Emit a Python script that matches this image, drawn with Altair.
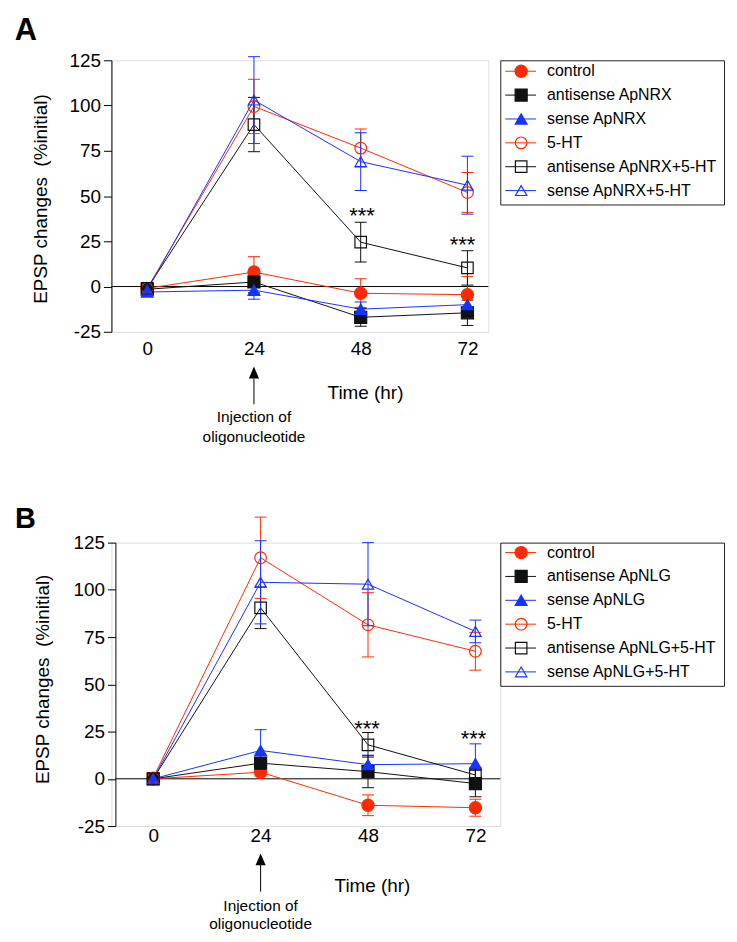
import altair as alt
import pandas as pd

times = [0, 24, 48, 72]
keys = ["control", "antisense", "sense", "5-HT", "antisense+5-HT", "sense+5-HT"]
labels_A = ["control", "antisense ApNRX", "sense ApNRX", "5-HT",
            "antisense ApNRX+5-HT", "sense ApNRX+5-HT"]
labels_B = ["control", "antisense ApNLG", "sense ApNLG", "5-HT",
            "antisense ApNLG+5-HT", "sense ApNLG+5-HT"]

# Panel A (ApNRX): mean and error per time point
a_control = [-1.0, 8.0, -3.7, -4.5]
a_control_err = [2.0, 8.5, 8.0, 10.0]
a_antisense = [-1.5, 2.5, -17.0, -14.5]
a_antisense_err = [2.0, 6.0, 5.0, 7.0]
a_sense = [-3.0, -2.0, -12.5, -10.0]
a_sense_err = [2.0, 5.0, 4.0, 4.0]
a_5ht = [-1.0, 99.5, 76.5, 52.0]
a_5ht_err = [2.0, 15.0, 10.5, 11.0]
a_anti5ht = [-1.0, 89.5, 24.5, 10.3]
a_anti5ht_err = [2.0, 15.0, 11.0, 9.5]
a_sense5ht = [-2.0, 103.0, 69.0, 56.0]
a_sense5ht_err = [2.0, 24.0, 16.0, 16.0]

# Panel B (ApNLG)
b_control = [0.0, 3.5, -14.0, -15.3]
b_control_err = [1.5, 2.0, 5.5, 4.5]
b_antisense = [0.0, 8.3, 3.8, -2.5]
b_antisense_err = [1.5, 4.0, 8.5, 7.0]
b_sense = [0.0, 15.0, 7.5, 8.0]
b_sense_err = [1.5, 11.0, 5.0, 10.5]
b_5ht = [0.5, 117.0, 81.5, 67.5]
b_5ht_err = [1.5, 21.5, 17.0, 10.0]
b_anti5ht = [0.0, 90.5, 18.0, 2.0]
b_anti5ht_err = [1.5, 11.0, 6.5, 4.0]
b_sense5ht = [0.0, 104.0, 103.0, 78.0]
b_sense5ht_err = [1.5, 22.0, 22.0, 6.0]

y_ticks = [-25, 0, 25, 50, 75, 100, 125]
x_ticks = [0, 24, 48, 72]

a_star_t = [48.3, 70.9]
a_star_v = [41.8, 25.8]
b_star_t = [47.8, 71.6]
b_star_v = [29.4, 24.1]
stars = "***"
arrow_t = [24]
note_1 = "Injection of"
note_2 = "oligonucleotide"

RED = "#ff2a00"
BLUE = "#1434ff"
BLACK = "#111111"
colors = [RED, BLACK, BLUE, RED, BLACK, BLUE]
fills = [RED, BLACK, BLUE, "transparent", "transparent", "transparent"]
shapes = ["circle", "square", "triangle-up", "circle", "square", "triangle-up"]
sizes = [150, 130, 160, 150, 125, 160]
FONT = "Liberation Sans"
ARROW = "M0,-1L0.85,1L-0.85,1Z"

col_scale = alt.Scale(domain=keys, range=colors)
fill_scale = alt.Scale(domain=keys, range=fills)
shape_scale = alt.Scale(domain=keys, range=shapes)
size_scale = alt.Scale(domain=keys, range=sizes)


def long_df(series, errs, labels):
    rows = []
    for k, lab, v, e in zip(keys, labels, series, errs):
        for t, vi, ei in zip(times, v, e):
            rows.append(dict(key=k, label=lab, time=t, value=vi,
                             lo=vi - ei, hi=vi + ei))
    return pd.DataFrame(rows)


dfA = long_df([a_control, a_antisense, a_sense, a_5ht, a_anti5ht, a_sense5ht],
              [a_control_err, a_antisense_err, a_sense_err, a_5ht_err,
               a_anti5ht_err, a_sense5ht_err], labels_A)
dfB = long_df([b_control, b_antisense, b_sense, b_5ht, b_anti5ht, b_sense5ht],
              [b_control_err, b_antisense_err, b_sense_err, b_5ht_err,
               b_anti5ht_err, b_sense5ht_err], labels_B)


def panel(df, star_t, star_v, p):
    w, h = p["w"], p["h"]
    xs = alt.Scale(domain=p["xdom"], nice=False, zero=False)
    ys = alt.Scale(domain=[-25, 125], nice=False, zero=False)
    xax = alt.Axis(values=x_ticks, ticks=False, domain=False, grid=False,
                   labelFontSize=19, labelColor="black", labelPadding=p["lab_pad"],
                   labelBaseline="middle", labelFlush=False, labelOverlap=False,
                   labelFont=FONT, title="Time (hr)", titleFont=FONT,
                   titleFontSize=19, titleFontWeight="normal", titleColor="black",
                   titleX=p["tx"], titleY=p["ty"], titleAlign="center",
                   titleBaseline="middle")
    yax = alt.Axis(values=y_ticks, grid=False, domainColor="black",
                   tickColor="black", tickSize=8, labelFontSize=19,
                   labelColor="black", labelPadding=3, labelFont=FONT,
                   labelExpr="'' + datum.value",
                   labelOverlap=False, labelFlush=False, offset=p["yoff"],
                   title="EPSP changes\u00a0 (%initial)", titleFont=FONT,
                   titleFontSize=19, titleFontWeight="normal", titleColor="black",
                   titleX=p["ytx"], titleY=p["yty"], titleAlign="center",
                   titleBaseline="middle", titleAngle=270)

    def X(f):
        return alt.X(f, scale=xs, axis=xax)

    def Y(f):
        return alt.Y(f, scale=ys, axis=yax)

    C = alt.Color("key:N", scale=col_scale, legend=None)
    base = alt.Chart(df)

    zero = alt.Chart(pd.DataFrame({"v": [0]})).mark_rule(
        color="black", strokeWidth=1).encode(
        y=Y("v:Q"), x=alt.value(p["zx0"]), x2=alt.value(w))
    lines = base.mark_line(strokeWidth=1).encode(
        x=X("time:Q"), y=Y("value:Q"), color=C, detail="key:N")
    bars = base.mark_rule(strokeWidth=1).encode(
        x=X("time:Q"), y=Y("lo:Q"), y2="hi:Q", color=C)
    cap_lo = base.mark_tick(orient="horizontal", size=12, thickness=1,
                            opacity=1).encode(x=X("time:Q"), y=Y("lo:Q"), color=C)
    cap_hi = base.mark_tick(orient="horizontal", size=12, thickness=1,
                            opacity=1).encode(x=X("time:Q"), y=Y("hi:Q"), color=C)
    pts = base.mark_point(opacity=1, strokeWidth=1.2).encode(
        x=X("time:Q"), y=Y("value:Q"),
        shape=alt.Shape("key:N", scale=shape_scale, legend=None),
        fill=alt.Fill("key:N", scale=fill_scale, legend=None),
        stroke=alt.Stroke("key:N", scale=col_scale, legend=None),
        size=alt.Size("key:N", scale=size_scale, legend=None))

    sdf = pd.DataFrame({"t": star_t, "v": star_v, "s": [stars] * len(star_t)})
    star_txt = alt.Chart(sdf).mark_text(
        fontSize=22, font=FONT, align="center", baseline="alphabetic",
        dy=12.5, color="black").encode(x=X("t:Q"), y=Y("v:Q"), text="s:N")

    adf = pd.DataFrame({"t": arrow_t, "a": [note_1], "b": [note_2]})
    head = alt.Chart(adf).mark_point(
        shape=ARROW, filled=True, color="black", size=144, opacity=1).encode(
        x=X("t:Q"), y=alt.value(h + p["ah"]))
    shaft = alt.Chart(adf).mark_rule(color="black", strokeWidth=1).encode(
        x=X("t:Q"), y=alt.value(h + p["s0"]), y2=alt.value(h + p["s1"]))
    n1 = alt.Chart(adf).mark_text(
        fontSize=15.5, font=FONT, align="center", baseline="middle",
        color="black").encode(x=X("t:Q"), y=alt.value(h + p["n1"]), text="a:N")
    n2 = alt.Chart(adf).mark_text(
        fontSize=15.5, font=FONT, align="center", baseline="middle",
        color="black").encode(x=X("t:Q"), y=alt.value(h + p["n2"]), text="b:N")

    ldf = pd.DataFrame({"s": [p["letter"]]})
    letter = alt.Chart(ldf).mark_text(
        fontSize=p["lfs"], font=FONT, fontWeight="bold", align="center",
        baseline="alphabetic", color="black").encode(
        x=alt.value(p["lx"]), y=alt.value(p["ly"]), text="s:N")

    layers = [zero, lines, bars, cap_lo, cap_hi, pts, star_txt,
              head, shaft, n1, n2, letter]
    if p.get("anchor"):
        # white, invisible corner mark that pins the page's top-left corner
        anchor = alt.Chart(ldf).mark_rule(color="white", strokeWidth=1).encode(
            x=alt.value(-102.5), x2=alt.value(-102.5),
            y=alt.value(-48.5), y2=alt.value(-48.0))
        layers = [anchor] + layers
    return alt.layer(*layers).properties(width=w, height=h)


def legend(labels, h, first):
    ldf = pd.DataFrame({"key": keys, "label": labels, "idx": list(range(6))})
    Yl = alt.Y("idx:Q", scale=alt.Scale(domain=[-first / 24, (h - first) / 24],
                                        reverse=True, nice=False, zero=False),
               axis=None)
    C = alt.Color("key:N", scale=col_scale, legend=None)
    rule = alt.Chart(ldf).mark_rule(strokeWidth=1).encode(
        x=alt.value(5), x2=alt.value(36), y=Yl, color=C)
    pts = alt.Chart(ldf).mark_point(opacity=1, strokeWidth=1.2).encode(
        x=alt.value(21), y=Yl,
        shape=alt.Shape("key:N", scale=shape_scale, legend=None),
        fill=alt.Fill("key:N", scale=fill_scale, legend=None),
        stroke=alt.Stroke("key:N", scale=col_scale, legend=None),
        size=alt.Size("key:N", scale=size_scale, legend=None))
    txt = alt.Chart(ldf).mark_text(
        align="left", baseline="middle", fontSize=16, font=FONT,
        color="black").encode(x=alt.value(47), y=Yl, text="label:N")
    return alt.layer(rule, pts, txt).properties(
        width=225, height=h,
        view=alt.ViewBackground(stroke="#222222", strokeWidth=1))


pA = dict(w=379, h=273, xdom=[-8.05, 76.70], lab_pad=17, tx=255, ty=61,
          yoff=0, ytx=-71, yty=139, zx0=0, ah=41, s0=47, s1=73, n1=86, n2=106,
          letter="A", lfs=31, lx=-86, ly=-20, anchor=True)
pB = dict(w=391, h=285, xdom=[-9.333, 77.556], lab_pad=10, tx=262, ty=60,
          yoff=-4, ytx=-73.5, yty=137, zx0=4, ah=33.5, s0=39, s1=66, n1=80, n2=99,
          letter="B", lfs=29, lx=-86.5, ly=-15)

rowA = alt.hconcat(panel(dfA, a_star_t, a_star_v, pA), legend(labels_A, 145, 11),
                   spacing=12, bounds="flush").resolve_scale(x="independent",
                                                             y="independent")
rowB = alt.hconcat(panel(dfB, b_star_t, b_star_v, pB), legend(labels_B, 144, 10),
                   spacing=0, bounds="flush").resolve_scale(x="independent",
                                                            y="independent")

# with flush bounds the nested row counts as zero-height, so the spacing is
# the distance between the two plot tops
chart = alt.vconcat(rowA, rowB, spacing=485, bounds="flush").resolve_scale(
    x="independent", y="independent").properties(
    autosize=alt.AutoSizeParams(type="pad"),
    padding={"left": 0, "top": 0, "right": 4, "bottom": 4},
    background="white",
).configure_view(stroke=None).configure(font=FONT)

chart.save("out.html", embed_options={"renderer": "svg", "actions": False})
